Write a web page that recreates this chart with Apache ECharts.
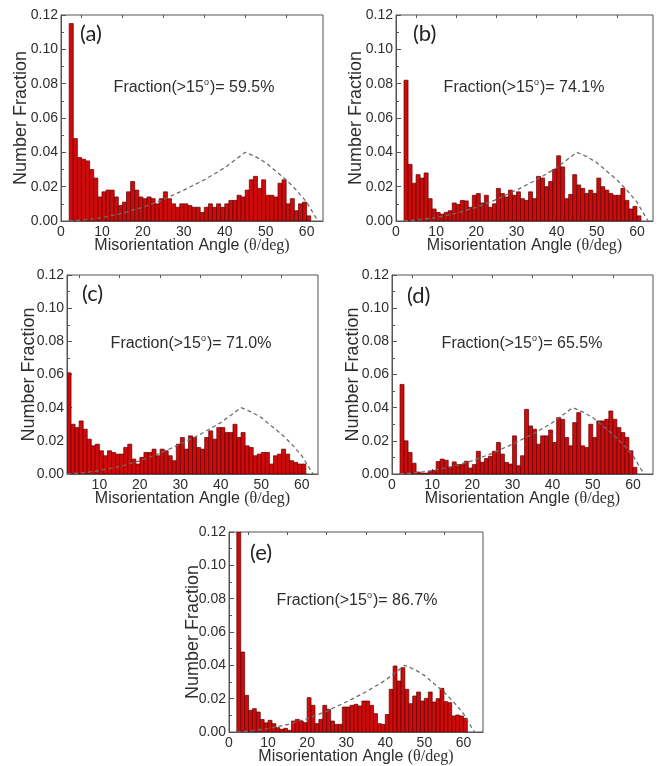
<!DOCTYPE html>
<html>
<head>
<meta charset="utf-8">
<script src="https://cdn.jsdelivr.net/npm/echarts@6/dist/echarts.min.js"></script>
<style>
  html, body { margin: 0; padding: 0; background: #fff; }
  #chart { width: 660px; height: 766px; }
</style>
</head>
<body>
<div id="chart"></div>
<script>
// Misorientation angle distributions, 1-degree bins starting at 2 degrees
const binStart = 2;
const binWidth = 1;

const fractionA = [
  0.115, 0.048, 0.037, 0.036, 0.035, 0.030, 0.025, 0.014, 0.017, 0.018,
  0.018, 0.014, 0.009, 0.011, 0.017, 0.023, 0.018, 0.014, 0.013, 0.014,
  0.013, 0.010, 0.013, 0.017, 0.013, 0.010, 0.008, 0.010, 0.010, 0.009,
  0.008, 0.008, 0.005, 0.008, 0.010, 0.008, 0.010, 0.008, 0.010, 0.012,
  0.012, 0.015, 0.014, 0.018, 0.024, 0.026, 0.019, 0.024, 0.015, 0.015,
  0.014, 0.022, 0.024, 0.010, 0.013, 0.006, 0.010, 0.011, 0.003
];
const fractionB = [
  0.082, 0.033, 0.022, 0.027, 0.025, 0.028, 0.013, 0.007, 0.005, 0.004,
  0.005, 0.006, 0.0105, 0.0097, 0.012, 0.0117, 0.008, 0.015, 0.016, 0.0105,
  0.015, 0.008, 0.010, 0.019, 0.016, 0.014, 0.018, 0.015, 0.017, 0.013,
  0.012, 0.017, 0.013, 0.026, 0.025, 0.020, 0.023, 0.030, 0.038, 0.0315,
  0.013, 0.0155, 0.027, 0.021, 0.019, 0.016, 0.018, 0.016, 0.025, 0.020,
  0.018, 0.016, 0.015, 0.015, 0.019, 0.012, 0.007, 0.0085, 0.003
];
const fractionC = [
  0.061, 0.030, 0.028, 0.032, 0.027, 0.021, 0.017, 0.018, 0.014, 0.011,
  0.014, 0.013, 0.012, 0.012, 0.016, 0.018, 0.009, 0.006, 0.010, 0.013,
  0.013, 0.015, 0.011, 0.015, 0.014, 0.011, 0.008, 0.018, 0.022, 0.015,
  0.023, 0.022, 0.016, 0.015, 0.022, 0.026, 0.021, 0.028, 0.028, 0.025,
  0.025, 0.030, 0.022, 0.025, 0.017, 0.016, 0.011, 0.012, 0.013, 0.013,
  0.006, 0.011, 0.012, 0.015, 0.012, 0.008, 0.007, 0.006, 0.006
];
const fractionD = [
  0.054, 0.020, 0.013, 0.0065, 0.0012, 0.0005, 0.0005, 0.0016, 0.0022, 0.0075,
  0.009, 0.0083, 0.0042, 0.0073, 0.0057, 0.0057, 0.0077, 0.0036, 0.0057, 0.0137,
  0.0071, 0.0093, 0.0107, 0.0137, 0.019, 0.012, 0.007, 0.006, 0.023, 0.005,
  0.011, 0.039, 0.029, 0.027, 0.018, 0.023, 0.023, 0.0265, 0.019, 0.034,
  0.033, 0.022, 0.017, 0.031, 0.037, 0.017, 0.016, 0.030, 0.022, 0.032,
  0.032, 0.033, 0.038, 0.033, 0.028, 0.025, 0.022, 0.014, 0.004
];
const fractionE = [
  0.120, 0.048, 0.022, 0.013, 0.014, 0.012, 0.0075, 0.0055, 0.007, 0.005,
  0.0026, 0.0016, 0.0022, 0.001, 0.0066, 0.0076, 0.0066, 0.0056, 0.0206, 0.016,
  0.005, 0.0076, 0.016, 0.0136, 0.0066, 0.0046, 0.0046, 0.015, 0.015, 0.016,
  0.0166, 0.0156, 0.0186, 0.0186, 0.016, 0.011, 0.005, 0.0046, 0.0105, 0.0256,
  0.0396, 0.0306, 0.0386, 0.0256, 0.017, 0.0216, 0.024, 0.0186, 0.0202, 0.024,
  0.018, 0.020, 0.0262, 0.0182, 0.0176, 0.0096, 0.0102, 0.0096, 0.0082
];

// Random-texture (Mackenzie) reference curve
const mackenzieAngle = [2, 5, 10, 15, 20, 25, 30, 35, 40, 45, 47.5, 50, 52.5, 55, 57.5, 60, 62, 62.8];
const mackenzieFraction = [0, 0.0005, 0.002, 0.0045, 0.008, 0.0125, 0.018, 0.024, 0.031, 0.040,
  0.0375, 0.034, 0.029, 0.024, 0.018, 0.011, 0.003, 0];

const panelNames = ['(a)', '(b)', '(c)', '(d)', '(e)'];
const highAngleShare = ['59.5%', '74.1%', '71.0%', '65.5%', '86.7%'];
const xMajorTicks = [0, 10, 20, 30, 40, 50, 60];
const xMinorTicks = [5, 15, 25, 35, 45, 55];
const seriesList = [fractionA, fractionB, fractionC, fractionD, fractionE];

// Panel placement on the page
const panels = [
  { left: 61,  top: 15,  width: 262, height: 206, xMin: 0, xMax: 64, label: [80, 34],   note: [194, 87],  yTitleGap: 40 },
  { left: 396, top: 15,  width: 257, height: 206, xMin: 0, xMax: 64, label: [413, 34],  note: [524, 87],  yTitleGap: 40 },
  { left: 67,  top: 275, width: 251, height: 199, xMin: 2, xMax: 64, label: [82, 294],  note: [191, 343], yTitleGap: 38 },
  { left: 392, top: 275, width: 261, height: 199, xMin: 0, xMax: 65, label: [407, 296], note: [522, 343], yTitleGap: 39 },
  { left: 229, top: 532, width: 254, height: 200, xMin: 0, xMax: 65, label: [250, 553], note: [357, 600], yTitleGap: 36 }
];

const SANS = 'Liberation Sans, Arial, sans-serif';
const SERIF = 'Liberation Serif, Times New Roman, serif';
const TEXT = '#2e2e2e';
const FRAME = '#555555';

const grids = [], xAxes = [], yAxes = [], series = [], graphics = [];

panels.forEach((p, i) => {
  grids.push({
    left: p.left, top: p.top, width: p.width, height: p.height,
    show: true, borderColor: FRAME, borderWidth: 1, containLabel: false
  });
  const majors = xMajorTicks.filter(v => v >= p.xMin && v <= p.xMax);
  const minors = xMinorTicks.filter(v => v >= p.xMin && v <= p.xMax);
  // labelled axis with major ticks
  xAxes.push({
    type: 'value', gridIndex: i, min: p.xMin, max: p.xMax,
    splitLine: { show: false },
    axisLine: { show: true, lineStyle: { color: FRAME, width: 1 } },
    axisTick: { show: true, inside: true, length: 5, customValues: majors, lineStyle: { color: FRAME } },
    axisLabel: { customValues: majors, margin: 4, fontSize: 14, fontFamily: SANS, color: TEXT }
  });
  // companion axis carrying the minor ticks
  xAxes.push({
    type: 'value', gridIndex: i, min: p.xMin, max: p.xMax,
    splitLine: { show: false },
    axisLine: { show: false },
    axisTick: { show: true, inside: true, length: 3, customValues: minors, lineStyle: { color: FRAME } },
    axisLabel: { show: false }
  });
  yAxes.push({
    type: 'value', gridIndex: i, min: 0, max: 0.12, interval: 0.02,
    splitLine: { show: false },
    axisLine: { show: true, lineStyle: { color: FRAME, width: 1 } },
    axisTick: { show: true, inside: true, length: 5, lineStyle: { color: FRAME } },
    minorTick: { show: true, splitNumber: 2, length: 3, lineStyle: { color: FRAME } },
    axisLabel: { margin: 3, fontSize: 14, fontFamily: SANS, color: TEXT, formatter: v => v.toFixed(2) }
  });

  const values = seriesList[i];
  series.push({
    type: 'custom', xAxisIndex: 2 * i, yAxisIndex: i, clip: true, silent: true, z: 2,
    data: values.map((v, k) => [binStart + k * binWidth, v]),
    renderItem: (params, api) => {
      const x0 = api.value(0);
      const topLeft = api.coord([x0, api.value(1)]);
      const bottomRight = api.coord([x0 + binWidth, 0]);
      return {
        type: 'rect',
        shape: { x: topLeft[0], y: topLeft[1], width: bottomRight[0] - topLeft[0], height: bottomRight[1] - topLeft[1] },
        style: { fill: '#cf0a0a', stroke: '#5e0000', lineWidth: 0.7 }
      };
    }
  });
  series.push({
    type: 'line', xAxisIndex: 2 * i, yAxisIndex: i, silent: true, z: 3,
    symbol: 'none', smooth: false,
    data: mackenzieAngle.map((a, k) => [a, mackenzieFraction[k]]),
    lineStyle: { color: '#6e6e6e', width: 1.3, type: [4, 3] }
  });

  // panel tag
  graphics.push({
    type: 'text', x: p.label[0], y: p.label[1], z: 10,
    style: { text: panelNames[i], font: '22px Lato, "Open Sans", sans-serif', fill: '#222', align: 'left', verticalAlign: 'middle' }
  });
  // high-angle boundary share, with a raised small "o" for degrees
  graphics.push({
    type: 'text', x: p.note[0], y: p.note[1], z: 10,
    style: {
      text: '{n|Fraction(>15}{s|o}{n|)= ' + highAngleShare[i] + '}',
      align: 'center', verticalAlign: 'middle',
      rich: {
        n: { fontFamily: SANS, fontSize: 16, fill: TEXT, verticalAlign: 'bottom' },
        s: { fontFamily: SANS, fontSize: 9, fill: TEXT, verticalAlign: 'bottom', padding: [0, 1, 8, 0] }
      }
    }
  });
  // axis titles
  graphics.push({
    type: 'text', x: p.left + p.width / 2, y: p.top + p.height + 25, z: 10,
    style: {
      text: '{a|Misorientation Angle }{b|(θ/deg)}',
      align: 'center', verticalAlign: 'middle',
      rich: {
        a: { fontFamily: SANS, fontSize: 16, fill: TEXT },
        b: { fontFamily: SERIF, fontSize: 16, fill: TEXT }
      }
    }
  });
  graphics.push({
    type: 'text', x: p.left - p.yTitleGap, y: p.top + p.height / 2, rotation: Math.PI / 2, z: 10,
    style: { text: 'Number Fraction', fontFamily: SANS, fontSize: 18, fill: TEXT, align: 'center', verticalAlign: 'middle' }
  });
});

const chart = echarts.init(document.getElementById('chart'), null, { renderer: 'canvas' });
chart.setOption({
  animation: false,
  backgroundColor: '#ffffff',
  grid: grids,
  xAxis: xAxes,
  yAxis: yAxes,
  series: series,
  graphic: graphics
});
</script>
</body>
</html>
